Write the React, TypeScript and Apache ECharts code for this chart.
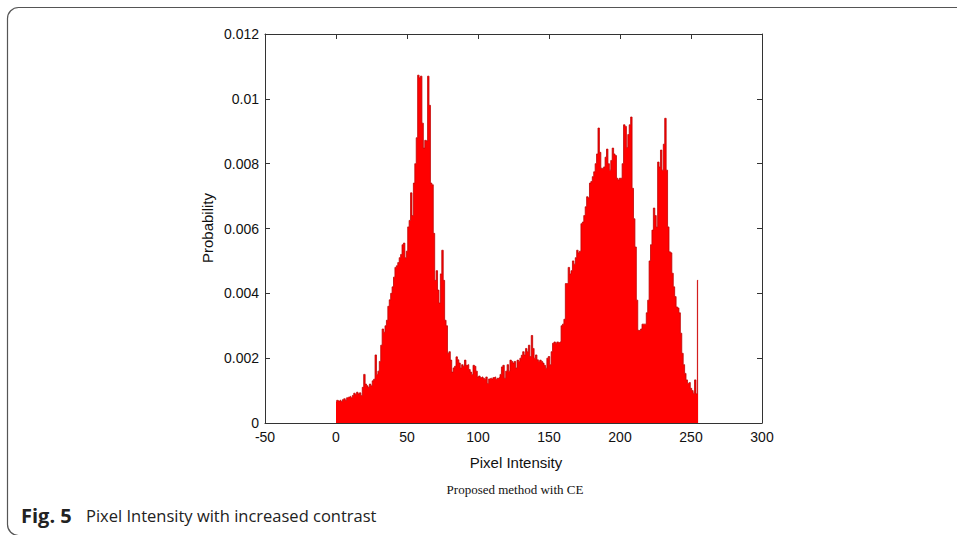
import React, { useEffect, useRef } from "react";
import * as echarts from "echarts";

// Pixel intensity bins 0..255
const intensities: number[] = Array.from({ length: 256 }, (_, i) => i);

// Probability per bin, in units of 0.001
const probPerMille: number[] = [
  0.65, 0.7, 0.68, 0.7, 0.66, 0.72, 0.75, 0.7, 0.78, 0.8,
  0.82, 0.78, 0.85, 0.92, 0.88, 0.95, 0.9, 0.93, 0.85, 1.1,
  1.5, 1.2, 1.15, 1.1, 1.2, 1.15, 1.3, 1.35, 2.1, 1.5,
  1.6, 1.9, 2.4, 2.9, 2.8, 3.0, 3.17, 3.6, 3.8, 4.0,
  4.2, 4.5, 4.8, 4.85, 4.95, 5.1, 5.2, 5.5, 5.55, 5.1,
  5.3, 6.05, 6.25, 7.1, 6.4, 7.4, 8.0, 8.8, 10.73, 10.65,
  10.7, 9.25, 8.48, 8.72, 8.7, 10.7, 9.8, 7.4, 7.35, 5.85,
  4.4, 4.7, 4.1, 3.7, 4.6, 5.33, 4.4, 3.17, 3.0, 2.15,
  2.2, 1.94, 1.57, 1.7, 1.75, 2.04, 1.95, 1.85, 1.7, 1.8,
  1.75, 1.94, 1.78, 1.8, 1.65, 1.57, 1.5, 1.78, 1.75, 1.6,
  1.42, 1.45, 1.4, 1.42, 1.38, 1.35, 1.42, 1.22, 1.36, 1.38,
  1.36, 1.4, 1.42, 1.35, 1.38, 1.4, 1.5, 1.73, 1.78, 1.38,
  1.6, 1.8, 1.6, 1.94, 1.9, 1.85, 1.9, 1.7, 1.94, 1.9,
  2.0, 2.09, 2.2, 2.1, 2.3, 2.2, 2.4, 2.05, 2.7, 2.3,
  2.0, 2.1, 1.95, 1.9, 1.94, 1.9, 1.85, 1.78, 1.69, 2.0,
  2.05, 1.8, 2.2, 2.46, 2.5, 2.45, 2.5, 2.48, 2.5, 3.0,
  3.05, 3.2, 4.3, 4.3, 4.8, 4.6, 4.7, 5.0, 4.9, 5.1,
  5.33, 5.25, 5.3, 6.15, 6.2, 6.4, 6.67, 6.98, 6.95, 7.4,
  7.45, 7.6, 7.75, 8.0, 8.3, 9.1, 8.35, 7.86, 7.85, 7.9,
  8.2, 8.45, 8.0, 7.8, 8.1, 8.48, 8.3, 8.25, 7.55, 7.5,
  7.55, 7.55, 8.0, 9.2, 9.15, 8.5, 8.9, 9.2, 9.44, 7.24,
  6.3, 5.43, 3.79, 2.86, 2.85, 2.9, 3.05, 3.05, 3.05, 3.4,
  3.79, 5.0, 5.5, 5.95, 6.63, 6.4, 6.05, 8.05, 7.9, 8.42,
  7.8, 8.6, 9.4, 7.8, 6.05, 5.28, 5.25, 4.62, 4.2, 3.9,
  3.58, 3.55, 3.4, 2.77, 2.15, 1.8, 1.53, 1.33, 1.23, 1.25,
  1.07, 1.0, 0.92, 1.33, 0.9, 4.4,
];

const xTicks = { min: -50, max: 300, interval: 50 };
const yTicks = { min: 0, max: 0.012, interval: 0.002 };

const xTitle = "Pixel Intensity";
const yTitle = "Probability";
const subTitle = "Proposed method with CE";
const figLabel = "Fig. 5";
const figCaption = "Pixel Intensity with increased contrast";

const AXIS_COLOR = "#333";
const LABEL_FONT = "'Liberation Sans', Arial, sans-serif";

export default function App() {
  const ref = useRef<HTMLDivElement>(null);

  useEffect(() => {
    if (!ref.current) return;
    const chart = echarts.init(ref.current, null, { renderer: "svg" });
    const points = intensities.map((x, i) => [x, probPerMille[i] / 1000]);

    const axisCommon = {
      axisLine: { show: true, onZero: false, lineStyle: { color: AXIS_COLOR, width: 1 } },
      axisTick: { show: true, inside: true, length: 5, lineStyle: { color: AXIS_COLOR } },
      splitLine: { show: false },
    };

    chart.setOption({
      animation: false,
      backgroundColor: "#ffffff",
      grid: { left: 265, top: 34, right: 195, bottom: 112, containLabel: false },
      xAxis: [
        {
          type: "value",
          position: "bottom",
          ...xTicks,
          ...axisCommon,
          axisLabel: {
            show: true,
            color: "#111",
            fontFamily: LABEL_FONT,
            fontSize: 14,
            margin: 7,
          },
        },
        {
          type: "value",
          position: "top",
          ...xTicks,
          ...axisCommon,
          axisLabel: { show: false },
        },
      ],
      yAxis: [
        {
          type: "value",
          position: "left",
          ...yTicks,
          ...axisCommon,
          axisLabel: {
            show: true,
            color: "#111",
            fontFamily: LABEL_FONT,
            fontSize: 14,
            margin: 6,
            formatter: (v: number) => String(parseFloat(v.toFixed(3))),
          },
        },
        {
          type: "value",
          position: "right",
          ...yTicks,
          ...axisCommon,
          axisLabel: { show: false },
        },
      ],
      series: [
        {
          type: "line",
          name: "Probability",
          xAxisIndex: 0,
          yAxisIndex: 0,
          data: points,
          step: "middle",
          symbol: "none",
          lineStyle: { color: "#c00000", width: 0.8 },
          areaStyle: { color: "#ff0000", opacity: 1, origin: "start" },
          emphasis: { disabled: true },
          z: 3,
        },
      ],
      graphic: [
        {
          type: "rect",
          shape: { x: 7.5, y: 7.5, width: 1000, height: 528, r: 11 },
          style: { fill: "none", stroke: "#555", lineWidth: 1.2 },
          silent: true,
        },
        {
          type: "text",
          x: 207,
          y: 228,
          rotation: Math.PI / 2,
          style: {
            text: yTitle,
            fill: "#111",
            font: `15px ${LABEL_FONT}`,
            textAlign: "center",
            textVerticalAlign: "middle",
          },
        },
        {
          type: "text",
          x: 516,
          y: 462,
          style: {
            text: xTitle,
            fill: "#111",
            font: `15px ${LABEL_FONT}`,
            textAlign: "center",
            textVerticalAlign: "middle",
          },
        },
        {
          type: "text",
          x: 515,
          y: 489,
          style: {
            text: subTitle,
            fill: "#111",
            font: "13px 'Liberation Serif', 'Times New Roman', serif",
            textAlign: "center",
            textVerticalAlign: "middle",
          },
        },
        {
          type: "text",
          x: 21,
          y: 515,
          style: {
            text: figLabel,
            fill: "#222",
            font: "bold 20px 'Open Sans', sans-serif",
            textVerticalAlign: "middle",
          },
        },
        {
          type: "text",
          x: 86,
          y: 515,
          style: {
            text: figCaption,
            fill: "#222",
            font: "16.5px 'Open Sans', sans-serif",
            textVerticalAlign: "middle",
          },
        },
      ],
    });

    return () => chart.dispose();
  }, []);

  return (
    <div
      ref={ref}
      style={{ position: "fixed", left: 0, top: 0, width: 957, height: 535, background: "#fff" }}
    />
  );
}
